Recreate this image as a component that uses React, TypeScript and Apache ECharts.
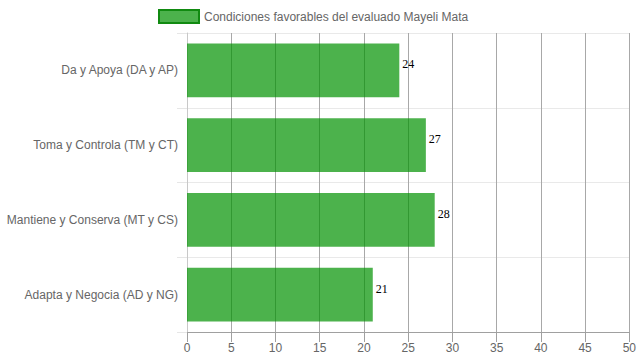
import React, { useEffect, useRef } from "react";
import * as echarts from "echarts";

const categories = [
  "Da y Apoya (DA y AP)",
  "Toma y Controla (TM y CT)",
  "Mantiene y Conserva (MT y CS)",
  "Adapta y Negocia (AD y NG)",
];
const values = [24, 27, 28, 21];
const seriesName = "Condiciones favorables del evaluado Mayeli Mata";

export default function App() {
  const ref = useRef<HTMLDivElement>(null);
  useEffect(() => {
    const chart = echarts.init(ref.current!, null, { renderer: "svg" });
    const font = "'Liberation Sans', Arial, Helvetica, sans-serif";
    chart.setOption({
      animation: false,
      textStyle: { fontFamily: font },
      legend: {
        left: 153,
        top: 4,
        itemWidth: 40,
        itemHeight: 13,
        itemGap: 10,
        textStyle: { color: "#666", fontSize: 12, fontFamily: font },
        data: [
          {
            name: seriesName,
            icon: "rect",
            itemStyle: { color: "rgba(0,146,0,0.7)", borderColor: "#118a11", borderWidth: 2 },
          },
        ],
      },
      grid: { left: 187, right: 9, top: 33, bottom: 28, containLabel: false },
      xAxis: {
        type: "value",
        min: 0,
        max: 50,
        interval: 5,
        axisLine: { show: true, lineStyle: { color: "#a0a0a0" } },
        axisTick: { show: true, length: 10, lineStyle: { color: "#a0a0a0" } },
        axisLabel: { color: "#666", fontSize: 12, margin: 10, fontFamily: font },
        splitLine: { show: true, lineStyle: { color: "#a8a8a8" } },
      },
      yAxis: {
        type: "category",
        inverse: true,
        data: categories,
        axisLine: { show: true, lineStyle: { color: "#c8c8c8" } },
        axisTick: { show: true, length: 10, alignWithLabel: false, lineStyle: { color: "#e6e6e6" } },
        axisLabel: { color: "#666", fontSize: 12, margin: 9, fontFamily: font },
        splitLine: { show: true, lineStyle: { color: "#e9e9e9" } },
      },
      series: [
        {
          name: seriesName,
          type: "bar",
          data: values,
          barWidth: "72%",
          itemStyle: { color: "rgba(0,146,0,0.7)" },
          label: {
            show: true,
            position: "right",
            distance: 3,
            offset: [0, -6],
            color: "#000",
            fontSize: 12,
            fontFamily: "'Liberation Serif', 'Times New Roman', serif",
          },
        },
      ],
    });
    return () => chart.dispose();
  }, []);
  return <div ref={ref} style={{ width: 639, height: 360, position: "absolute", left: 0, top: 0 }} />;
}
